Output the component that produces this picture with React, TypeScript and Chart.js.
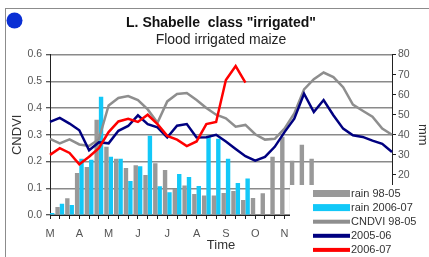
import React, { useEffect, useRef } from 'react';
import { Chart, registerables } from 'chart.js';

Chart.register(...registerables);

const FONT = "'Liberation Sans', Arial, sans-serif";

const monthLetters = ['M', 'A', 'M', 'J', 'J', 'A', 'S', 'O', 'N', 'D', 'J', 'F'];
const dekadsPerMonth = 3;
const dekadLabels = Array.from({ length: monthLetters.length * dekadsPerMonth }, (_, i) =>
  i % dekadsPerMonth === 0 ? monthLetters[i / dekadsPerMonth] : ''
);

// rainfall, mm per dekad (right axis)
const rain9805 = [2, 4, 8.3, 21, 24, 47.5, 34, 28, 23.5, 24.8, 20, 25.8, 22.5, 13, 14.7, 10.5, 9.7, 9.7, 11, 12, 7.5, 8.5, 10.8, 29, 39, 27, 35, 28, 12, 8, 5, 3, 2, 1, 1, 1];
const rain0607 = [1, 5.6, 5, 28, 27.5, 59, 29, 28, 17, 24.3, 39.5, 14.3, 11.3, 20.5, 19, 14.5, 39.5, 38, 28, 16, 18.2, null, null, null, null, null, null, null, null, null, null, null, null, null, null, null];

// CNDVI (left axis)
const cndvi9805 = [0.285, 0.268, 0.283, 0.264, 0.258, 0.283, 0.41, 0.438, 0.445, 0.43, 0.395, 0.345, 0.425, 0.453, 0.456, 0.43, 0.4, 0.375, 0.362, 0.33, 0.337, 0.302, 0.282, 0.285, 0.323, 0.38, 0.47, 0.508, 0.533, 0.516, 0.478, 0.413, 0.39, 0.368, 0.323, 0.3];
const cndvi0506 = [0.348, 0.363, 0.342, 0.317, 0.242, 0.272, 0.268, 0.315, 0.333, 0.373, 0.34, 0.328, 0.29, 0.334, 0.34, 0.29, 0.291, 0.3, 0.275, 0.247, 0.22, 0.203, 0.217, 0.255, 0.31, 0.36, 0.454, 0.385, 0.43, 0.373, 0.323, 0.298, 0.292, 0.278, 0.266, 0.236];
const cndvi0607 = [0.225, 0.25, 0.232, 0.19, 0.218, 0.25, 0.31, 0.35, 0.36, 0.348, 0.375, 0.34, 0.296, 0.282, 0.258, 0.275, 0.34, 0.348, 0.505, 0.557, 0.495, null, null, null, null, null, null, null, null, null, null, null, null, null, null, null];

const seriesNames = ['rain 98-05', 'rain 2006-07', 'CNDVI 98-05', '2005-06', '2006-07'];

const decorPlugin = {
  id: 'decor',
  afterDraw(chart: any) {
    const ctx = chart.ctx;
    ctx.save();
    // outer frame
    ctx.strokeStyle = '#8c8c8c';
    ctx.lineWidth = 1;
    ctx.strokeRect(5.5, 8.5, 800, 800);
    // blue dot
    ctx.fillStyle = '#0a2fd4';
    ctx.beginPath();
    ctx.arc(14.5, 20.5, 8, 0, Math.PI * 2);
    ctx.fill();
    // legend box
    ctx.fillStyle = '#ffffff';
    ctx.fillRect(290, 185, 200, 100);
    const x0 = 313;
    const sw = 37;
    const y0 = 193.5;
    const step = 14.1;
    ctx.font = `11px ${FONT}`;
    ctx.textBaseline = 'middle';
    ctx.textAlign = 'left';
    chart.data.datasets.forEach((ds: any, k: number) => {
      const cy = y0 + k * step;
      const isBar = (ds.type || chart.config.type) === 'bar';
      ctx.fillStyle = isBar ? ds.backgroundColor : ds.borderColor;
      if (isBar) {
        ctx.fillRect(x0, cy - 3.5, sw, 7);
      } else {
        ctx.fillRect(x0, cy - 2, sw, 4);
      }
      ctx.fillStyle = '#333';
      ctx.fillText(ds.label, x0 + sw + 1, cy + 0.5);
    });
    ctx.restore();
  },
};

export default function App() {
  const ref = useRef<HTMLCanvasElement | null>(null);
  useEffect(() => {
    if (!ref.current) return;
    Chart.defaults.font.family = FONT;
    const chart = new Chart(ref.current, {
      type: 'bar',
      data: {
        labels: dekadLabels,
        datasets: [
          { type: 'bar', label: seriesNames[0], data: rain9805, backgroundColor: '#999999', yAxisID: 'y1', order: 3, categoryPercentage: 0.9, barPercentage: 1 },
          { type: 'bar', label: seriesNames[1], data: rain0607, backgroundColor: '#12c8f8', yAxisID: 'y1', order: 4, categoryPercentage: 0.9, barPercentage: 1 },
          { type: 'line', label: seriesNames[2], data: cndvi9805, borderColor: '#8e8e8e', borderWidth: 2.5, pointRadius: 0, yAxisID: 'y', order: 2, tension: 0 },
          { type: 'line', label: seriesNames[3], data: cndvi0506, borderColor: '#000080', borderWidth: 2.5, pointRadius: 0, yAxisID: 'y', order: 1, tension: 0 },
          { type: 'line', label: seriesNames[4], data: cndvi0607, borderColor: '#ff0000', borderWidth: 2.5, pointRadius: 0, yAxisID: 'y', order: 0, tension: 0, spanGaps: false },
        ] as any,
      },
      options: {
        responsive: false,
        animation: false,
        layout: { padding: 0 },
        plugins: {
          legend: { display: false },
          tooltip: { enabled: false },
          title: {
            display: true,
            text: 'L. Shabelle  class "irrigated"',
            fullSize: false,
            color: '#111',
            font: { size: 14, weight: 'bold' },
            padding: { top: 15, bottom: 0 },
          },
          subtitle: {
            display: true,
            text: 'Flood irrigated maize',
            fullSize: false,
            color: '#222',
            font: { size: 14 },
            padding: { top: 0, bottom: 6 },
          },
        },
        scales: {
          x: {
            type: 'category',
            offset: false,
            grid: { offset: false, drawOnChartArea: false, drawTicks: true, tickLength: 4, tickColor: '#222', tickWidth: 1 },
            border: { color: '#222', width: 1 },
            ticks: { autoSkip: false, maxRotation: 0, minRotation: 0, padding: 8, color: '#555', font: { size: 11 } },
            title: { display: true, text: 'Time', color: '#333', font: { size: 13 }, padding: { top: 0, bottom: 4 } },
            afterFit: (s: any) => { s.height = 42; },
          },
          y: {
            position: 'left',
            min: 0,
            max: 0.6,
            ticks: { stepSize: 0.1, padding: 4, color: '#555', font: { size: 10.5 }, callback: (v: any) => Number(v).toFixed(1) },
            grid: { color: '#8a8a8a', lineWidth: 1.5, tickColor: '#222', tickWidth: 1, tickLength: 4 },
            border: { color: '#222', width: 1 },
            title: { display: true, text: 'CNDVI', color: '#333', font: { size: 13 }, padding: { top: 10, bottom: 0 } },
            afterFit: (s: any) => { s.width = 50; },
          },
          y1: {
            position: 'right',
            min: 0,
            max: 80,
            ticks: { stepSize: 10, padding: 2, color: '#555', font: { size: 10.5 } },
            grid: { drawOnChartArea: false, tickColor: '#222', tickWidth: 1, tickLength: 4 },
            border: { color: '#222', width: 1 },
            title: { display: true, text: 'mm', color: '#333', font: { size: 13, lineHeight: 1 }, padding: 0 },
            afterFit: (s: any) => { s.width = 37; },
          },
        },
      } as any,
      plugins: [decorPlugin],
    });
    return () => chart.destroy();
  }, []);

  return (
    <div style={{ position: 'fixed', left: 0, top: 0, width: 429, height: 257, background: '#fff' }}>
      <canvas ref={ref} width={429} height={257} style={{ display: 'block', width: 429, height: 257 }} />
    </div>
  );
}
